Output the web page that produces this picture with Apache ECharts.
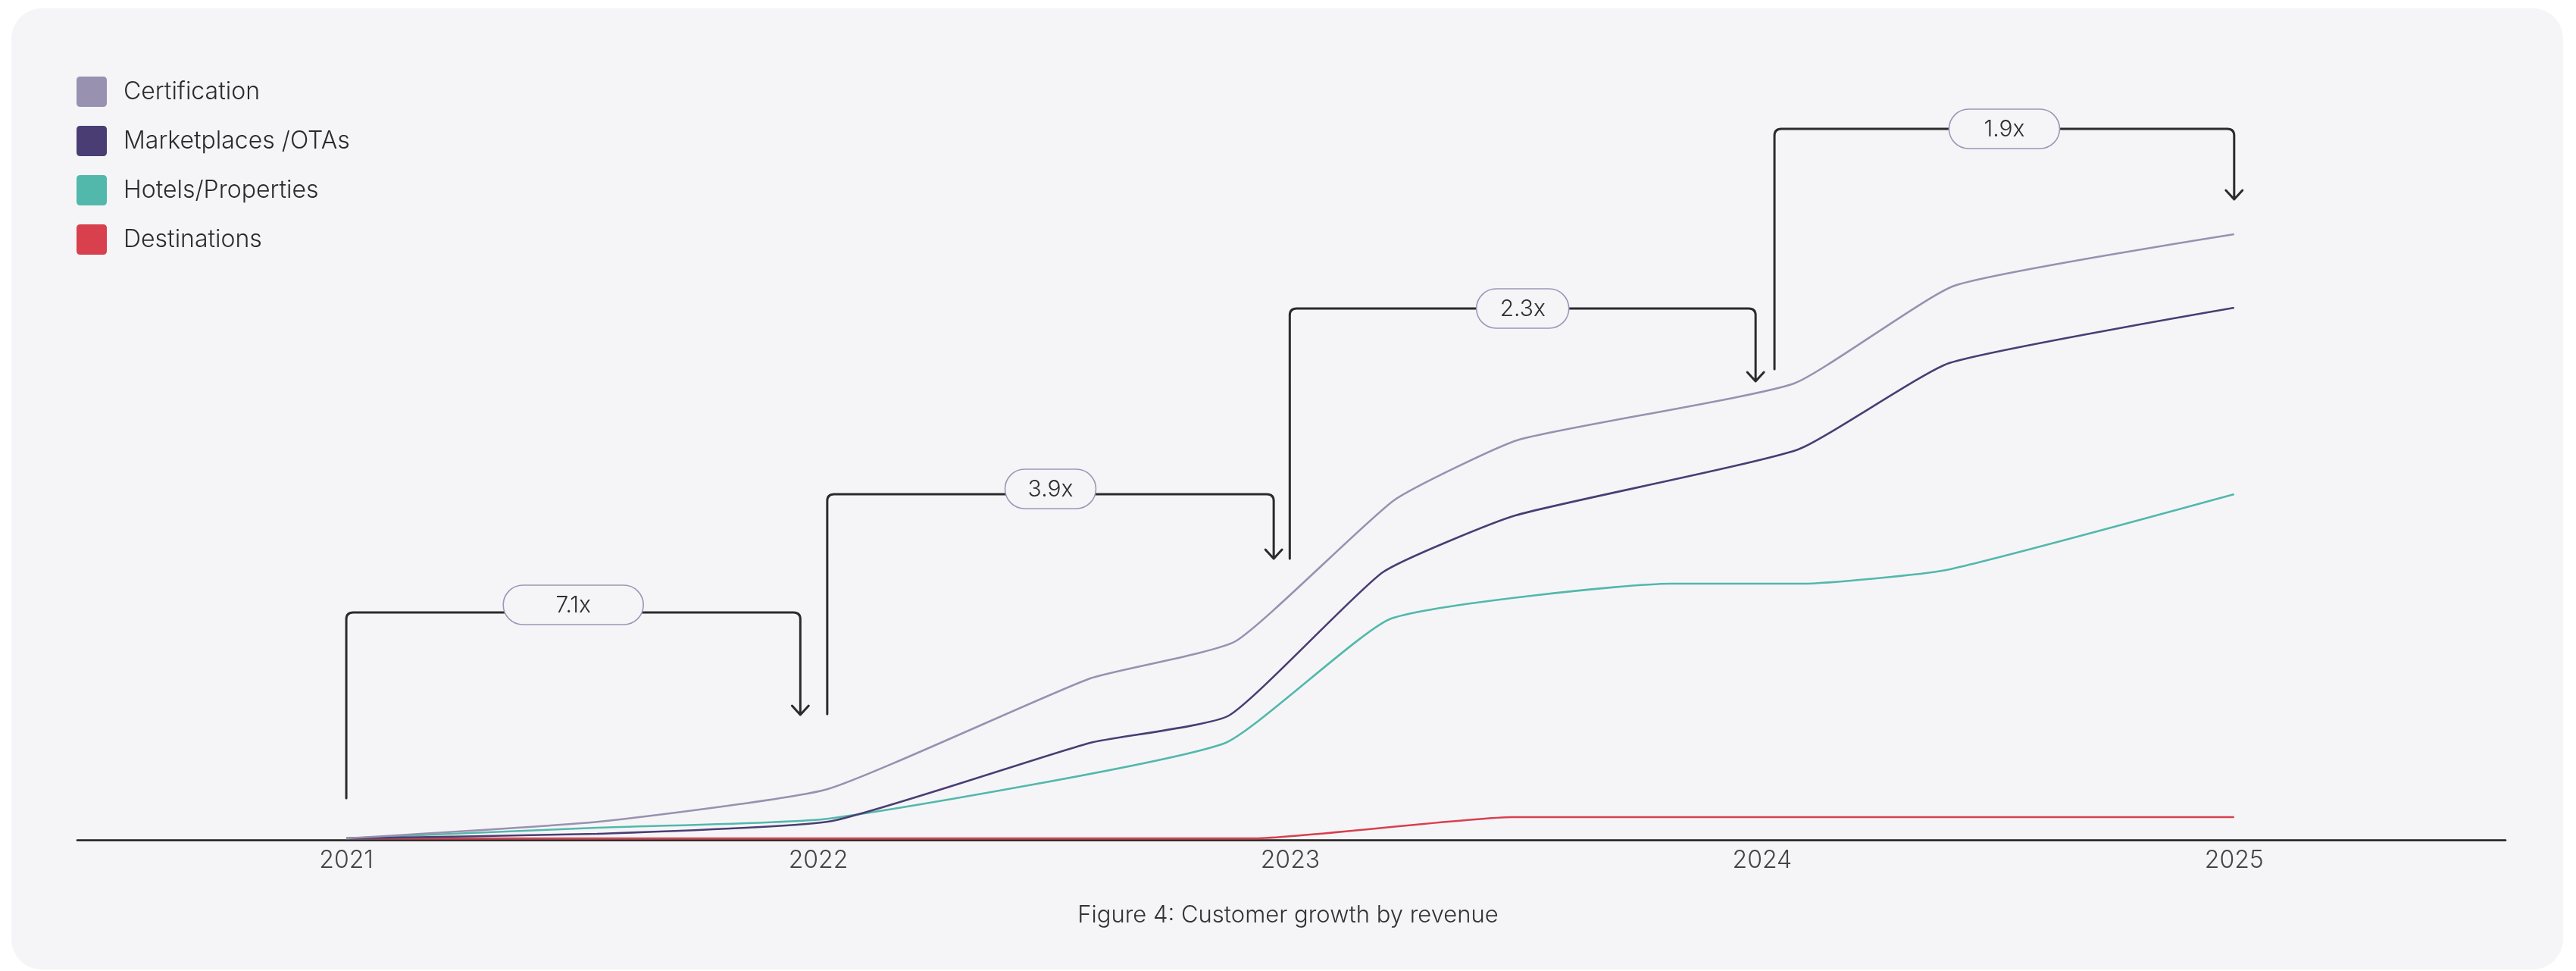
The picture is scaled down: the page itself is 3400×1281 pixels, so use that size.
<!DOCTYPE html>
<html><head><meta charset="utf-8">
<script src="https://cdn.jsdelivr.net/npm/echarts@6/dist/echarts.min.js"></script>
<style>
html,body{margin:0;padding:0;background:#fff;width:3400px;height:1281px;overflow:hidden}
#card{position:absolute;left:15px;top:11px;width:3368px;height:1268px;border-radius:40px;background:#f5f5f8}
#chart{position:absolute;left:0;top:0;width:3400px;height:1281px}
</style></head><body><div id="card"></div><div id="chart"></div>
<script>
// ---- data (x = fractional year, y = relative revenue units) ----
const yearTicks = [2021, 2022, 2023, 2024, 2025];
const seriesNames = ['Certification', 'Marketplaces /OTAs', 'Hotels/Properties', 'Destinations'];

const certX = [2021.00, 2021.535, 2022.02, 2022.576, 2022.884, 2023.22, 2023.485, 2024.067, 2024.407, 2025.00];
const certY = [0, 22, 65, 211, 260, 446, 526, 600, 729, 797];

const mktX = [2021.00, 2021.531, 2022.03, 2022.576, 2022.870, 2023.196, 2023.477, 2024.076, 2024.396, 2025.00];
const mktY = [0, 6, 23, 126, 162, 351, 426, 513, 627, 700];

const hotX = [2021.00, 2021.531, 2022.022, 2022.859, 2023.214, 2023.806, 2024.085, 2024.390, 2025.00];
const hotY = [0, 14, 26, 125, 290, 336, 336, 354, 454];

const desX = [2021.00, 2022.926, 2023.470, 2025.00];
const desY = [0, 0, 28, 28];

// growth brackets
const bracketLabels = ['7.1x', '3.9x', '2.3x', '1.9x'];
const bracketFrom = [2021.00, 2022.019, 2022.999, 2024.026];
const bracketTo   = [2021.962, 2022.965, 2023.986, 2025.00];
const bracketBase = [53, 164, 369, 619];
const bracketTop  = [298, 454, 699, 936];
const bracketTip  = [163, 369, 603, 843];

// ---- styles ----
const FONT = 'Inter, "Noto Sans", sans-serif';
const COLORS = ['#9891b0', '#4a3d73', '#52b8ab', '#d8404d'];
const PILL_W = [185, 120, 122, 146];
const PILL_LIFT = [10, 7, 0, 0];
const PILL_H = 52;
const X_MIN = 2020.430, X_MAX = 2025.575;

function pairs(xs, ys) { return xs.map((x, k) => [x, ys[k]]); }
const lineData = [pairs(certX, certY), pairs(mktX, mktY), pairs(hotX, hotY), pairs(desX, desY)];
const bracketData = bracketLabels.map((l, i) => [bracketFrom[i], bracketBase[i], bracketTop[i], bracketTo[i], bracketTip[i], i]);

const chart = echarts.init(document.getElementById('chart'), null, {renderer: 'canvas'});

const lineSeries = seriesNames.map((name, i) => ({
  name: name,
  type: 'line',
  data: lineData[i],
  smooth: 0.15,
  showSymbol: false,
  symbol: 'none',
  itemStyle: {color: COLORS[i]},
  lineStyle: {color: COLORS[i], width: 2.6},
  z: 3 + (3 - i),
  silent: true
}));

const bracketSeries = {
  type: 'custom',
  coordinateSystem: 'cartesian2d',
  data: bracketData,
  encode: {x: [0, 3], y: [1, 2, 4]},
  clip: false,
  silent: true,
  z: 10,
  renderItem: function (params, api) {
    const i = api.value(5);
    const p0 = api.coord([api.value(0), api.value(1)]);
    const pt = api.coord([api.value(0), api.value(2)]);
    const p1 = api.coord([api.value(3), api.value(4)]);
    const x0 = p0[0], yb = p0[1], yt = pt[1], x1 = p1[0], ytip = p1[1];
    const r = 9;
    const d = 'M' + x0 + ',' + yb + 'L' + x0 + ',' + (yt + r) + 'Q' + x0 + ',' + yt + ',' + (x0 + r) + ',' + yt +
      'L' + (x1 - r) + ',' + yt + 'Q' + x1 + ',' + yt + ',' + x1 + ',' + (yt + r) + 'L' + x1 + ',' + ytip +
      'M' + (x1 - 11) + ',' + (ytip - 12) + 'L' + x1 + ',' + ytip + 'L' + (x1 + 11) + ',' + (ytip - 12);
    const cx = (x0 + x1) / 2, w = PILL_W[i], h = PILL_H, cy = yt - PILL_LIFT[i];
    return {
      type: 'group',
      children: [
        {type: 'path', shape: {pathData: d}, style: {fill: null, stroke: '#2b2b2b', lineWidth: 3, lineJoin: 'round', lineCap: 'round'}},
        {type: 'rect', shape: {x: cx - w / 2, y: cy - h / 2, width: w, height: h, r: h / 2},
          style: {fill: '#f5f5f8', stroke: '#9c96b8', lineWidth: 1.6}},
        {type: 'text', style: {text: bracketLabels[i], x: cx, y: cy + 1, align: 'center', verticalAlign: 'middle',
          fontSize: 30, fontFamily: FONT, fontWeight: 300, fill: '#2e2e2e'}}
      ]
    };
  }
};

chart.setOption({
  backgroundColor: 'transparent',
  animation: false,
  title: {
    text: 'Figure 4: Customer growth by revenue',
    left: 'center', top: 1187,
    textStyle: {fontSize: 31, fontWeight: 300, color: '#333', fontFamily: FONT}
  },
  legend: {
    data: seriesNames,
    orient: 'vertical',
    left: 101, top: 101, padding: 0,
    itemWidth: 40, itemHeight: 40, itemGap: 25,
    icon: 'path://M5,0H35Q40,0,40,5V35Q40,40,35,40H5Q0,40,0,35V5Q0,0,5,0Z',
    textStyle: {fontSize: 32, fontWeight: 300, color: '#2b2b2b', fontFamily: FONT, padding: [0, 0, 0, 17]},
    selectedMode: false
  },
  grid: {left: 102, right: 93, top: 106, bottom: 173},
  xAxis: {
    type: 'value', min: X_MIN, max: X_MAX,
    splitLine: {show: false}, axisTick: {show: false},
    axisLine: {onZero: false, lineStyle: {color: '#1b1b1b', width: 2.6}},
    axisLabel: {customValues: yearTicks, formatter: v => String(v), fontSize: 32, fontWeight: 300,
      color: '#444', margin: 11, fontFamily: FONT}
  },
  yAxis: {type: 'value', min: -2, max: 1000, show: false},
  series: lineSeries.concat([bracketSeries])
});
</script></body></html>
